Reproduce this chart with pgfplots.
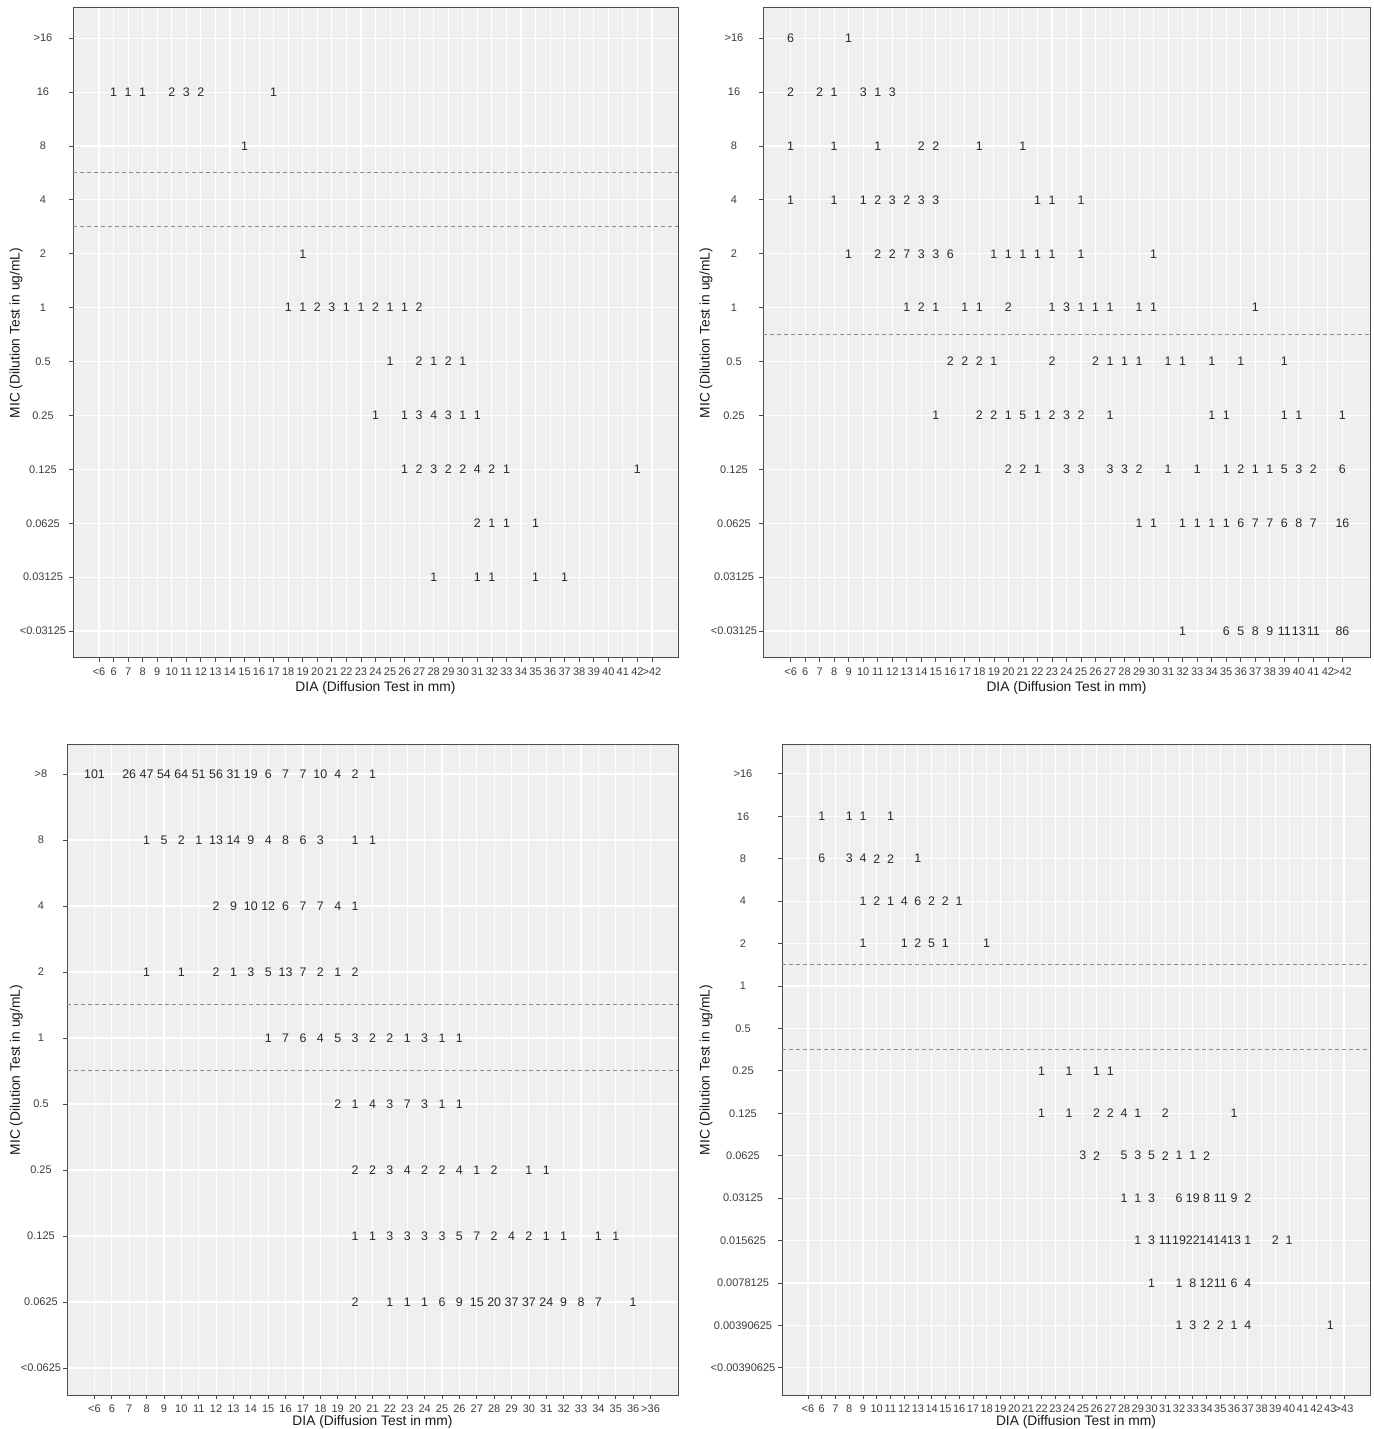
\documentclass[border=0pt]{standalone}
\usepackage{fontspec}
\setmainfont{Liberation Sans}
\usepackage{pgfplots}
\pgfplotsset{compat=1.18}
\usepackage{pgfplotstable}
\definecolor{panelbg}{RGB}{239,239,239}
\definecolor{tickgray}{RGB}{60,60,60}
\definecolor{txtgray}{RGB}{40,40,40}
\definecolor{dashgray}{RGB}{140,140,140}

\pgfplotstableread{
x y n
6 1 1
7 1 1
8 1 1
10 1 2
11 1 3
12 1 2
17 1 1
15 2 1
19 4 1
18 5 1
19 5 1
20 5 2
21 5 3
22 5 1
23 5 1
24 5 2
25 5 1
26 5 1
27 5 2
25 6 1
27 6 2
28 6 1
29 6 2
30 6 1
24 7 1
26 7 1
27 7 3
28 7 4
29 7 3
30 7 1
31 7 1
26 8 1
27 8 2
28 8 3
29 8 2
30 8 2
31 8 4
32 8 2
33 8 1
42 8 1
31 9 2
32 9 1
33 9 1
35 9 1
28 10 1
31 10 1
32 10 1
35 10 1
37 10 1
}\tabA

\pgfplotstableread{
x y n
5 0 6
9 0 1
5 1 2
7 1 2
8 1 1
10 1 3
11 1 1
12 1 3
5 2 1
8 2 1
11 2 1
14 2 2
15 2 2
18 2 1
21 2 1
5 3 1
8 3 1
10 3 1
11 3 2
12 3 3
13 3 2
14 3 3
15 3 3
22 3 1
23 3 1
25 3 1
9 4 1
11 4 2
12 4 2
13 4 7
14 4 3
15 4 3
16 4 6
19 4 1
20 4 1
21 4 1
22 4 1
23 4 1
25 4 1
30 4 1
13 5 1
14 5 2
15 5 1
17 5 1
18 5 1
20 5 2
23 5 1
24 5 3
25 5 1
26 5 1
27 5 1
29 5 1
30 5 1
37 5 1
16 6 2
17 6 2
18 6 2
19 6 1
23 6 2
26 6 2
27 6 1
28 6 1
29 6 1
31 6 1
32 6 1
34 6 1
36 6 1
39 6 1
15 7 1
18 7 2
19 7 2
20 7 1
21 7 5
22 7 1
23 7 2
24 7 3
25 7 2
27 7 1
34 7 1
35 7 1
39 7 1
40 7 1
43 7 1
20 8 2
21 8 2
22 8 1
24 8 3
25 8 3
27 8 3
28 8 3
29 8 2
31 8 1
33 8 1
35 8 1
36 8 2
37 8 1
38 8 1
39 8 5
40 8 3
41 8 2
43 8 6
29 9 1
30 9 1
32 9 1
33 9 1
34 9 1
35 9 1
36 9 6
37 9 7
38 9 7
39 9 6
40 9 8
41 9 7
43 9 16
32 11 1
35 11 6
36 11 5
37 11 8
38 11 9
39 11 11
40 11 13
41 11 11
43 11 86
}\tabB

\pgfplotstableread{
x y n
5 0 101
7 0 26
8 0 47
9 0 54
10 0 64
11 0 51
12 0 56
13 0 31
14 0 19
15 0 6
16 0 7
17 0 7
18 0 10
19 0 4
20 0 2
21 0 1
8 1 1
9 1 5
10 1 2
11 1 1
12 1 13
13 1 14
14 1 9
15 1 4
16 1 8
17 1 6
18 1 3
20 1 1
21 1 1
12 2 2
13 2 9
14 2 10
15 2 12
16 2 6
17 2 7
18 2 7
19 2 4
20 2 1
8 3 1
10 3 1
12 3 2
13 3 1
14 3 3
15 3 5
16 3 13
17 3 7
18 3 2
19 3 1
20 3 2
15 4 1
16 4 7
17 4 6
18 4 4
19 4 5
20 4 3
21 4 2
22 4 2
23 4 1
24 4 3
25 4 1
26 4 1
19 5 2
20 5 1
21 5 4
22 5 3
23 5 7
24 5 3
25 5 1
26 5 1
20 6 2
21 6 2
22 6 3
23 6 4
24 6 2
25 6 2
26 6 4
27 6 1
28 6 2
30 6 1
31 6 1
20 7 1
21 7 1
22 7 3
23 7 3
24 7 3
25 7 3
26 7 5
27 7 7
28 7 2
29 7 4
30 7 2
31 7 1
32 7 1
34 7 1
35 7 1
20 8 2
22 8 1
23 8 1
24 8 1
25 8 6
26 8 9
27 8 15
28 8 20
29 8 37
30 8 37
31 8 24
32 8 9
33 8 8
34 8 7
36 8 1
}\tabC

\pgfplotstableread{
x y n
6 1 1
8 1 1
9 1 1
11 1 1
6 2 6
8 2 3
9 2 4
10 2 2
11 2 2
13 2 1
9 3 1
10 3 2
11 3 1
12 3 4
13 3 6
14 3 2
15 3 2
16 3 1
9 4 1
12 4 1
13 4 2
14 4 5
15 4 1
18 4 1
22 7 1
24 7 1
26 7 1
27 7 1
22 8 1
24 8 1
26 8 2
27 8 2
28 8 4
29 8 1
31 8 2
36 8 1
25 9 3
26 9 2
28 9 5
29 9 3
30 9 5
31 9 2
32 9 1
33 9 1
34 9 2
28 10 1
29 10 1
30 10 3
32 10 6
33 10 19
34 10 8
35 10 11
36 10 9
37 10 2
29 11 1
30 11 3
31 11 11
32 11 19
33 11 22
34 11 14
35 11 14
36 11 13
37 11 1
39 11 2
40 11 1
30 12 1
32 12 1
33 12 8
34 12 12
35 12 11
36 12 6
37 12 4
32 13 1
33 13 3
34 13 2
35 13 2
36 13 1
37 13 4
43 13 1
}\tabD

\pgfplotsset{
  micstyle/.style={
    scale only axis,
    anchor=south west,
    axis background/.style={fill=panelbg},
    y dir=reverse,
    grid=major,
    major grid style={white, line width=0.55pt},
    axis line style={draw=black!70, line width=0.5pt},
    tick style={draw=black!70, line width=0.4pt},
    major tick length=2pt,
    tick align=outside,
    tick pos=left,
    x tick label style={font=\fontsize{5.5}{6}\selectfont, text=tickgray, yshift=0.6pt},
    y tick label style={font=\fontsize{5.5}{6}\selectfont, text=tickgray, anchor=center},
    label style={font=\fontsize{6.9}{8}\selectfont, text=black!90},
    xlabel={DIA (Diffusion Test in mm)},
    ylabel={MIC (Dilution Test in ug/mL)},
  },
  cnt/.style={only marks, mark=none, nodes near coords, point meta=explicit symbolic,
    every node near coord/.append style={anchor=center, inner sep=0pt, font=\fontsize{6.2}{7}\selectfont, text=txtgray}},
  thr/.style={dashgray, line width=0.5pt, dash pattern=on 2pt off 1.5pt},
}

\begin{document}
\begin{tikzpicture}
\useasboundingbox (0,0) rectangle (686.5pt,714.5pt);

% Panel 1 (top left)
\begin{axis}[micstyle,
  at={(36.5pt,385.5pt)}, width=302.5pt, height=325pt,
  xmin=3.21, xmax=44.79, ymin=-0.56, ymax=11.5,
  xtick={5,...,43},
  xticklabels={{<6},6,7,8,9,10,11,12,13,14,15,16,17,18,19,20,21,22,23,24,25,26,27,28,29,30,31,32,33,34,35,36,37,38,39,40,41,42,{>42}},
  ytick={0,...,11},
  yticklabels={{>16},16,8,4,2,1,0.5,0.25,0.125,0.0625,0.03125,{<0.03125}},
  y tick label style={xshift=-13pt},
  xlabel style={at={(axis description cs:0.5,-0.0455)}, anchor=center},
  ylabel style={at={(axis description cs:-0.094,0.5)}, anchor=center},
]
\addplot[thr] coordinates {(3.21,2.5) (44.79,2.5)};
\addplot[thr] coordinates {(3.21,3.5) (44.79,3.5)};
\addplot[cnt] table[x=x, y=y, meta=n] {\tabA};
\end{axis}

% Panel 2 (top right)
\begin{axis}[micstyle,
  at={(381.5pt,385.5pt)}, width=303.5pt, height=325pt,
  xmin=3.1, xmax=44.9, ymin=-0.56, ymax=11.5,
  xtick={5,...,43},
  xticklabels={{<6},6,7,8,9,10,11,12,13,14,15,16,17,18,19,20,21,22,23,24,25,26,27,28,29,30,31,32,33,34,35,36,37,38,39,40,41,42,{>42}},
  ytick={0,...,11},
  yticklabels={{>16},16,8,4,2,1,0.5,0.25,0.125,0.0625,0.03125,{<0.03125}},
  y tick label style={xshift=-12.5pt},
  xlabel style={at={(axis description cs:0.5,-0.0455)}, anchor=center},
  ylabel style={at={(axis description cs:-0.094,0.5)}, anchor=center},
]
\addplot[thr] coordinates {(3.1,5.5) (44.9,5.5)};
\addplot[cnt] table[x=x, y=y, meta=n] {\tabB};
\end{axis}

% Panel 3 (bottom left)
\begin{axis}[micstyle,
  at={(33.5pt,17pt)}, width=305.5pt, height=325pt,
  xmin=3.42, xmax=38.58, ymin=-0.44, ymax=9.41,
  xtick={5,...,37},
  xticklabels={{<6},6,7,8,9,10,11,12,13,14,15,16,17,18,19,20,21,22,23,24,25,26,27,28,29,30,31,32,33,34,35,36,{>36}},
  ytick={0,...,9},
  yticklabels={{>8},8,4,2,1,0.5,0.25,0.125,0.0625,{<0.0625}},
  y tick label style={xshift=-11pt},
  xlabel style={at={(axis description cs:0.5,-0.041)}, anchor=center},
  ylabel style={at={(axis description cs:-0.083,0.5)}, anchor=center},
]
\addplot[thr] coordinates {(3.42,3.5) (38.58,3.5)};
\addplot[thr] coordinates {(3.42,4.5) (38.58,4.5)};
\addplot[cnt] table[x=x, y=y, meta=n] {\tabC};
\end{axis}

% Panel 4 (bottom right)
\begin{axis}[micstyle,
  at={(391pt,17pt)}, width=294pt, height=325pt,
  xmin=3.11, xmax=45.89, ymin=-0.68, ymax=14.64,
  xtick={5,...,44},
  xticklabels={{<6},6,7,8,9,10,11,12,13,14,15,16,17,18,19,20,21,22,23,24,25,26,27,28,29,30,31,32,33,34,35,36,37,38,39,40,41,42,43,{>43}},
  ytick={0,...,14},
  yticklabels={{>16},16,8,4,2,1,0.5,0.25,0.125,0.0625,0.03125,0.015625,0.0078125,0.00390625,{<0.00390625}},
  y tick label style={xshift=-17.5pt},
  xlabel style={at={(axis description cs:0.5,-0.041)}, anchor=center},
  ylabel style={at={(axis description cs:-0.129,0.5)}, anchor=center},
]
\addplot[thr] coordinates {(3.11,4.5) (45.89,4.5)};
\addplot[thr] coordinates {(3.11,6.5) (45.89,6.5)};
\addplot[cnt] table[x=x, y=y, meta=n] {\tabD};
\end{axis}
\end{tikzpicture}
\end{document}
